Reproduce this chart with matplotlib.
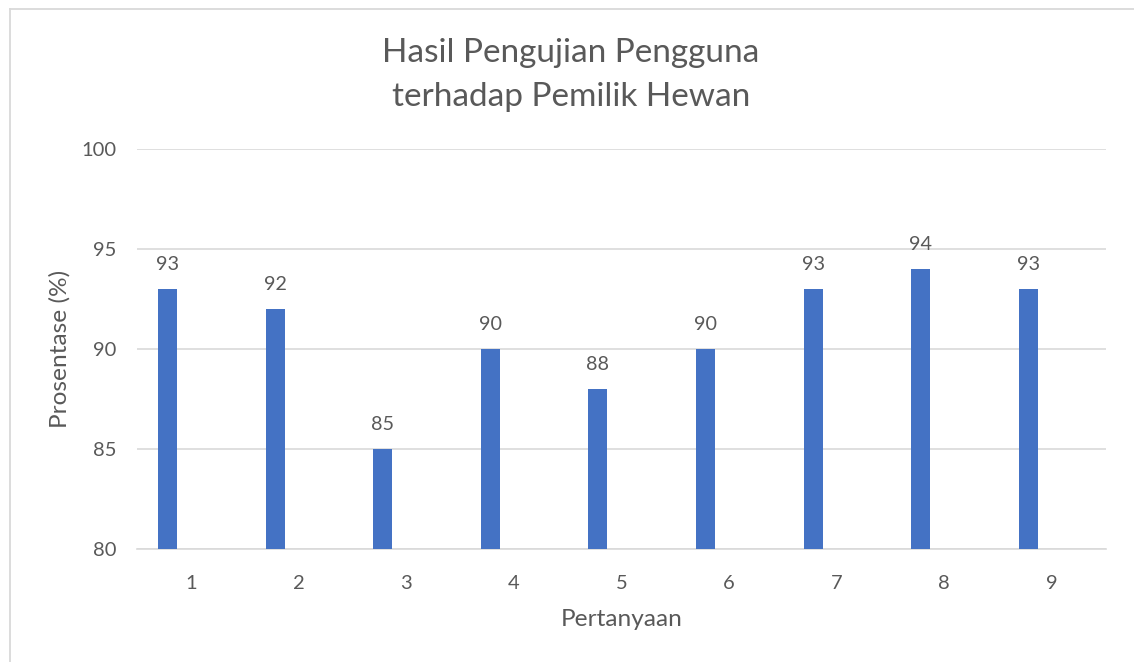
import matplotlib
matplotlib.use('Agg')
from matplotlib import pyplot as plt
from matplotlib.lines import Line2D
import numpy as np

# Persentase jawaban per pertanyaan
pertanyaan = ['1', '2', '3', '4', '5', '6', '7', '8', '9']
prosentase = [93, 92, 85, 90, 88, 90, 93, 94, 93]

y_ticks = [80, 85, 90, 95, 100]

TEXT = '#595959'
GRID = '#D9D9D9'
BAR = '#4472C4'

plt.rcParams['font.family'] = ['Lato', 'DejaVu Sans']

W, H = 1134, 662
fig = plt.figure(figsize=(W / 100, H / 100), dpi=100)
ax = fig.add_axes([137.3 / W, (H - 548.7) / H, 968.4 / W, 399.5 / H])

x = np.arange(len(pertanyaan))
bars = ax.bar(x - 0.22, prosentase, width=0.177, color=BAR, zorder=3)

for rect, val in zip(bars, prosentase):
    ax.annotate(str(val), (rect.get_x() + rect.get_width() / 2, val),
                xytext=(0, 17.5), textcoords='offset points',
                ha='center', va='center', fontsize=14.2, color=TEXT)

ax.set_xlim(-0.5, len(pertanyaan) - 0.5)
ax.set_ylim(80, 100)
ax.set_yticks(y_ticks)
ax.set_xticks(x)
ax.set_xticklabels(pertanyaan)
ax.grid(axis='y', color=GRID, linewidth=1.2, zorder=0)
ax.tick_params(axis='both', length=0, labelsize=14.5, labelcolor=TEXT)
ax.tick_params(axis='y', pad=15)
ax.tick_params(axis='x', pad=19)
for side in ['top', 'right', 'left']:
    ax.spines[side].set_visible(False)
ax.spines['bottom'].set_color(GRID)
ax.spines['bottom'].set_linewidth(1.2)

ax.set_xlabel('Pertanyaan', fontsize=17.6, color=TEXT, labelpad=12.5)
ax.set_ylabel('Prosentase (%)', fontsize=17.6, color=TEXT, labelpad=8)

fig.text(571 / W, 1 - 75 / H, 'Hasil Pengujian Pengguna\nterhadap Pemilik Hewan',
         ha='center', va='center', fontsize=24, color=TEXT, linespacing=1.55)

# Chart frame (left and top edges)
fig.add_artist(Line2D([9.5 / W, 9.5 / W], [0, 1 - 8.5 / H], transform=fig.transFigure,
                      color=GRID, linewidth=1.3))
fig.add_artist(Line2D([9.5 / W, 1], [1 - 8.5 / H, 1 - 8.5 / H], transform=fig.transFigure,
                      color=GRID, linewidth=1.3))

fig.savefig('out.png', dpi=100)
